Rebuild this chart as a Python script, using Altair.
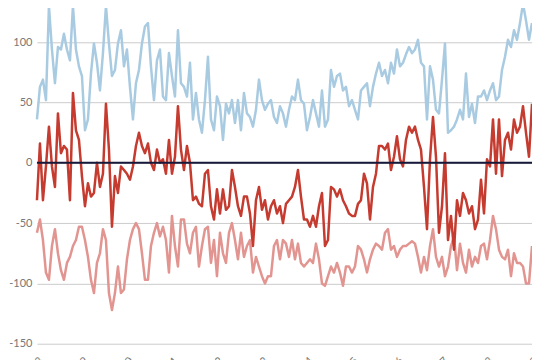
import altair as alt
import pandas as pd

# Values (index = evenly spaced sample along the x axis)
BLUE = [36, 63, 69, 52, 130, 94, 66, 96, 94, 107,
        94, 85, 130, 94, 80, 72, 27, 36, 74, 99,
        83, 60, 91, 130, 99, 72, 77, 99, 110, 80,
        94, 63, 36, 66, 77, 99, 113, 116, 80, 52,
        85, 94, 55, 52, 91, 72, 55, 110, 66, 63,
        55, 83, 36, 58, 36, 25, 52, 88, 36, 27,
        55, 47, 19, 49, 41, 52, 33, 52, 27, 58,
        41, 38, 30, 44, 69, 52, 44, 49, 52, 38,
        33, 47, 41, 30, 44, 55, 52, 69, 52, 49,
        27, 38, 52, 41, 30, 60, 30, 36, 77, 63,
        72, 74, 60, 63, 47, 52, 44, 36, 60, 63,
        66, 47, 63, 74, 83, 72, 77, 66, 83, 74,
        94, 80, 83, 90, 96, 91, 94, 102, 83, 80,
        36, 80, 69, 44, 41, 69, 99, 25, 27, 30,
        36, 44, 36, 74, 38, 49, 33, 55, 55, 60,
        52, 60, 66, 52, 55, 77, 88, 102, 96, 110,
        102, 116, 132, 118, 102, 116]

RED = [-31, 16, -31, -3, 30, -3, -20, 41, 8, 14,
       11, -31, 58, 27, 19, -11, -36, -17, -28, -25,
       0, -20, -9, 49, 11, -53, -11, -25, -3, -6,
       -9, -14, -3, 14, 25, 14, 8, 16, 0, -6,
       11, 0, 3, -9, 19, -9, 5, 47, 11, -6,
       14, 0, -31, -28, -34, -36, -9, -6, -36, -47,
       -22, -42, -22, -39, -36, -6, -20, -36, -44, -28,
       -28, -42, -69, -31, -20, -39, -31, -47, -36, -31,
       -42, -36, -50, -34, -31, -28, -20, -6, -28, -47,
       -47, -53, -44, -53, -36, -25, -69, -64, -20, -22,
       -28, -22, -31, -36, -42, -44, -44, -34, -31, -9,
       -17, -47, -20, -9, 14, 14, 11, 16, -6, 5,
       22, 3, -3, 19, 30, 25, 30, 19, 11, -20,
       -55, 3, 38, 5, -58, -36, 8, -64, -44, -72,
       -31, -44, -25, -31, -42, -36, -55, -47, -14, -42,
       3, -3, 36, -9, 36, -11, 19, 25, 11, 36,
       25, 30, 47, 25, 5, 49]

PINK = [-58, -47, -64, -91, -97, -69, -55, -75, -89, -97,
        -83, -78, -69, -64, -53, -53, -64, -78, -97, -108,
        -83, -75, -55, -64, -108, -122, -108, -86, -108, -105,
        -80, -64, -55, -50, -55, -75, -97, -97, -69, -58,
        -50, -61, -53, -64, -91, -44, -69, -86, -47, -47,
        -67, -75, -58, -53, -86, -69, -55, -53, -83, -64,
        -94, -58, -75, -83, -58, -50, -64, -80, -58, -78,
        -69, -64, -91, -78, -86, -94, -100, -94, -94, -69,
        -64, -80, -64, -67, -78, -64, -80, -67, -83, -86,
        -83, -80, -83, -67, -80, -100, -102, -94, -86, -91,
        -83, -91, -102, -86, -86, -91, -86, -69, -72, -80,
        -91, -80, -72, -67, -69, -72, -58, -55, -72, -69,
        -78, -72, -69, -69, -67, -65, -67, -78, -91, -78,
        -89, -69, -55, -78, -86, -78, -94, -86, -69, -61,
        -89, -67, -83, -91, -72, -86, -78, -83, -69, -67,
        -80, -64, -44, -55, -72, -78, -80, -72, -94, -75,
        -83, -83, -86, -100, -100, -69]

TICK_LABELS = ["2008", "2009", "2010", "2011", "2012", "2013",
               "2014", "2015", "2016", "2017", "2018", "2019"]
Y_TICKS = [-150, -100, -50, 0, 50, 100]

n = len(BLUE)
step = (n - 1) // (len(TICK_LABELS) - 1)
x_ticks = [k * step for k in range(len(TICK_LABELS))]
label_arr = "[" + ",".join("'%s'" % t for t in TICK_LABELS) + "]"

x_enc = alt.X(
    "i:Q",
    scale=alt.Scale(domain=[0, n - 1], nice=False, zero=False),
    axis=alt.Axis(values=x_ticks, labelExpr=label_arr + "[round(datum.value/%d)]" % step,
                  labelAngle=-45, grid=False, domain=False, ticks=False,
                  labelPadding=11, labelFontSize=11, title=None),
)
y_scale = alt.Scale(domain=[-150, 128.1], nice=False, zero=False)
y_axis = alt.Axis(values=Y_TICKS, labelExpr="'' + datum.value", grid=True,
                  gridColor="#cccccc", gridWidth=1, domain=False, ticks=False,
                  labelPadding=5, labelFontSize=11, title=None)


def series(vals, color):
    d = pd.DataFrame({"i": list(range(n)), "v": vals})
    return alt.Chart(d).mark_line(color=color, strokeWidth=2.5, strokeJoin="round").encode(
        x=x_enc, y=alt.Y("v:Q", scale=y_scale, axis=y_axis)
    )


zero = alt.Chart(pd.DataFrame({"v": [0]})).mark_rule(color="#16193a", strokeWidth=2).encode(
    y=alt.Y("v:Q", scale=y_scale, axis=y_axis)
)

chart = alt.layer(
    series(BLUE, "#a9cbe2"),
    series(PINK, "#e29590"),
    series(RED, "#c53b2f"),
    zero,
).properties(
    width=496,
    height=336,
    autosize=alt.AutoSizeParams(type="none"),
    padding={"left": 29, "top": 0, "right": 0, "bottom": 40},
).configure_view(stroke=None).configure_axis(
    labelFont="Lato", labelColor="#777777"
)

chart.save("out.html", embed_options={"renderer": "svg", "actions": False})
